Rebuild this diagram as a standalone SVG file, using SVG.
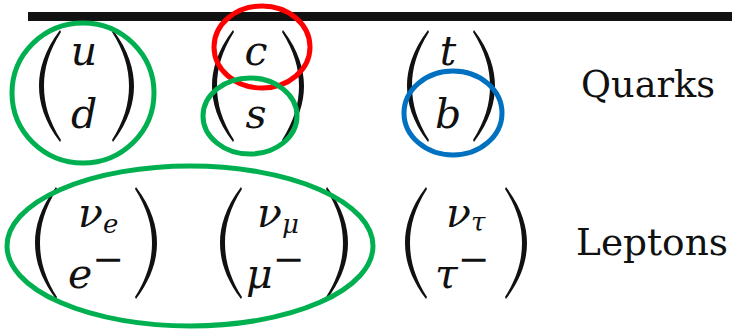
<svg xmlns="http://www.w3.org/2000/svg" width="732" height="334" viewBox="0 0 732 334">
<style>
.m{font-style:italic;font-size:41px;fill:#111;text-anchor:middle}
.st{text-anchor:start}
.s{font-size:26px}
.mi{font-style:normal;font-size:38px}
.lbl{font-size:38px;fill:#111}
.p{fill:#111}
.ring{fill:none;stroke-width:5}
.g{stroke:#00B050}.r{stroke:#FF0000}.b{stroke:#0070C0}
</style>
<defs>
<path id="lp" class="p" d="M22,0 C6,21 1,40 1,56 C1,72 6,91 22,112 L23,110 C11,91 6,74 6,56 C6,38 11,21 23,2 Z"/>
<path id="rp" class="p" d="M0,0 C16,21 21,40 21,56 C21,72 16,91 0,112 L-1,110 C11,91 16,74 16,56 C16,38 11,21 -1,2 Z"/>
</defs>
<rect id="rule" x="28" y="12" width="704" height="9" fill="#111"/>
<g id="ud" font-family="'DejaVu Serif', 'Liberation Serif', serif">
<use href="#lp" x="38" y="30"/>
<use href="#rp" x="113" y="30"/>
<text class="m" x="84" y="65">u</text>
<text class="m" x="84" y="128">d</text>
</g>
<g id="cs" font-family="'DejaVu Serif', 'Liberation Serif', serif">
<use href="#lp" x="211" y="30"/>
<use href="#rp" x="283" y="30"/>
<text class="m" x="256" y="65">c</text>
<text class="m" x="256" y="128">s</text>
</g>
<g id="tb" font-family="'DejaVu Serif', 'Liberation Serif', serif">
<use href="#lp" x="406" y="30"/>
<use href="#rp" x="474" y="30"/>
<text class="m" x="448" y="65">t</text>
<text class="m" x="448" y="128">b</text>
</g>
<g id="quarks"><text class="lbl" font-family="'DejaVu Serif', 'Liberation Serif', serif" x="581" y="97" textLength="134" lengthAdjust="spacingAndGlyphs">Quarks</text></g>
<g id="e" font-family="'DejaVu Serif', 'Liberation Serif', serif">
<use href="#lp" x="34" y="187"/>
<use href="#rp" x="136" y="187"/>
<text class="m st" x="78" y="227">ν<tspan class="s" dy="6">e</tspan></text>
<text class="m st" x="68" y="288">e<tspan class="mi" dy="-16">−</tspan></text>
</g>
<g id="mu" font-family="'DejaVu Serif', 'Liberation Serif', serif">
<use href="#lp" x="219" y="187"/>
<use href="#rp" x="327" y="187"/>
<text class="m st" x="257" y="227">ν<tspan class="s" dy="6">μ</tspan></text>
<text class="m st" x="246" y="288">μ<tspan class="mi" dy="-16">−</tspan></text>
</g>
<g id="tau" font-family="'DejaVu Serif', 'Liberation Serif', serif">
<use href="#lp" x="404" y="187"/>
<use href="#rp" x="506" y="187"/>
<text class="m st" x="446" y="227">ν<tspan class="s" dy="4">τ</tspan></text>
<text class="m st" x="435" y="288">τ<tspan class="mi" dy="-16">−</tspan></text>
</g>
<g id="leptons"><text class="lbl" font-family="'DejaVu Serif', 'Liberation Serif', serif" x="576" y="255" textLength="152" lengthAdjust="spacingAndGlyphs">Leptons</text></g>
<g id="highlights">
<ellipse class="ring g" cx="83" cy="93" rx="71" ry="70"/>
<ellipse class="ring r" cx="262" cy="47" rx="48" ry="41"/>
<ellipse class="ring g" cx="250" cy="116" rx="47" ry="38"/>
<ellipse class="ring b" cx="453" cy="113" rx="49" ry="42"/>
<ellipse class="ring g" cx="190" cy="246" rx="183" ry="80"/>
</g>
</svg>
